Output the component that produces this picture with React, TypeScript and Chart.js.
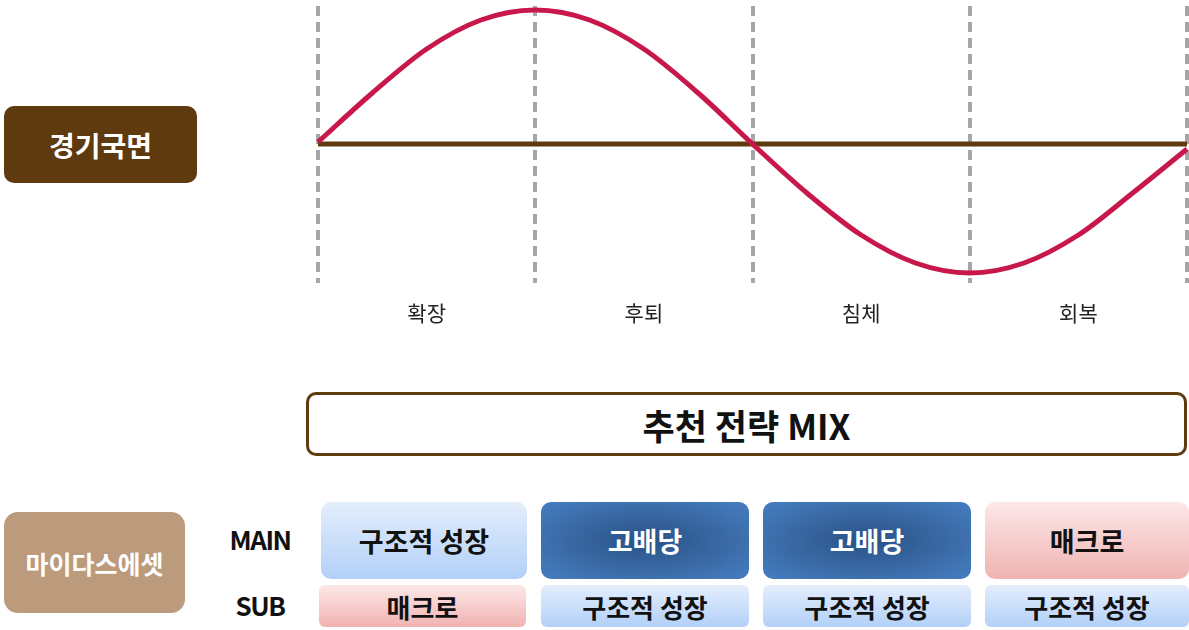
import React, { useEffect, useRef } from "react";
import { Chart, registerables } from "chart.js";

Chart.register(...registerables);

const phaseLabels = ["확장", "후퇴", "침체", "회복"];
const phaseBounds = [0, 1, 2, 3, 4];
const cycleX = [0, 0.25, 0.5, 0.75, 1, 1.25, 1.5, 1.75, 2, 2.25, 2.5, 2.75, 3, 3.25, 3.5, 3.75, 4];
const cycleY = [2, 51, 95, 124, 134, 124, 95, 51, 0, -49, -91, -119, -129, -119, -91, -49, -5];
const baselineX = [0, 4];
const baselineY = [0, 0];
const yMin = -139;
const yMax = 138;

const mainStrategies = ["구조적 성장", "고배당", "고배당", "매크로"];
const subStrategies = ["매크로", "구조적 성장", "구조적 성장", "구조적 성장"];

const FONT = "'Noto Sans CJK KR', 'Noto Sans', sans-serif";

const styleFor = (name: string): React.CSSProperties => {
  if (name === "고배당")
    return {
      background: "radial-gradient(ellipse at center, #2A5186 0%, #3A6AA6 55%, #467EC2 100%)",
      color: "#fff",
    };
  if (name === "매크로")
    return { background: "linear-gradient(#FCE8E8, #F0B3B1)", color: "#111" };
  return { background: "linear-gradient(#E4EEFC, #B2D0F8)", color: "#111" };
};

const mainCols = [
  [321, 206],
  [541, 208],
  [763, 208],
  [985, 204],
];
const subCols = [
  [319, 207],
  [541, 208],
  [763, 208],
  [985, 204],
];

const phaseLabelPlugin = {
  id: "phaseLabels",
  afterDraw(chart: any) {
    const { ctx, scales } = chart;
    const x = scales.x;
    ctx.save();
    ctx.font = `400 21px ${FONT}`;
    ctx.fillStyle = "#222";
    ctx.textAlign = "center";
    ctx.textBaseline = "middle";
    phaseLabels.forEach((lab, i) => {
      const px = x.getPixelForValue((phaseBounds[i] + phaseBounds[i + 1]) / 2);
      ctx.fillText(lab, px, 313);
    });
    ctx.restore();
  },
};

function CycleChart() {
  const ref = useRef<HTMLCanvasElement | null>(null);
  useEffect(() => {
    if (!ref.current) return;
    const chart = new Chart(ref.current, {
      type: "line",
      data: {
        datasets: [
          {
            data: cycleX.map((x, i) => ({ x, y: cycleY[i] })),
            borderColor: "#C8184B",
            borderWidth: 5,
            pointRadius: 0,
            cubicInterpolationMode: "monotone",
            clip: false,
            order: 0,
          } as any,
          {
            data: baselineX.map((x, i) => ({ x, y: baselineY[i] })),
            borderColor: "#5E3A0E",
            borderWidth: 5,
            pointRadius: 0,
            clip: false,
            order: 1,
          } as any,
        ],
      },
      options: {
        animation: false,
        responsive: false,
        maintainAspectRatio: false,
        layout: { padding: { left: 318, right: 2, top: 6, bottom: 57 } },
        plugins: { legend: { display: false }, tooltip: { enabled: false } },
        scales: {
          x: {
            type: "linear",
            min: phaseBounds[0],
            max: phaseBounds[phaseBounds.length - 1],
            ticks: { display: false, stepSize: 1 },
            grid: { color: "#A6A6A6", lineWidth: 4, drawTicks: false, tickLength: 0 },
            border: { display: false, dash: [10, 6] },
          },
          y: { display: false, min: yMin, max: yMax },
        },
      },
      plugins: [phaseLabelPlugin],
    });
    return () => chart.destroy();
  }, []);
  return (
    <canvas
      ref={ref}
      width={1189}
      height={340}
      style={{ position: "absolute", left: 0, top: 0, width: 1189, height: 340 }}
    />
  );
}

const box = (extra: React.CSSProperties): React.CSSProperties => ({
  position: "absolute",
  display: "flex",
  alignItems: "center",
  justifyContent: "center",
  fontFamily: FONT,
  fontWeight: 700,
  boxSizing: "border-box",
  whiteSpace: "nowrap",
  ...extra,
});

export default function App() {
  return (
    <div
      style={{
        position: "fixed",
        left: 0,
        top: 0,
        width: 1189,
        height: 630,
        background: "#fff",
        overflow: "hidden",
      }}
    >
      <CycleChart />
      <div
        style={box({
          left: 4,
          top: 106,
          width: 193,
          height: 77,
          background: "#5E3A0E",
          borderRadius: 10,
          color: "#fff",
          fontSize: 28,
        })}
      >
        경기국면
      </div>
      <div
        style={box({
          left: 306,
          top: 392,
          width: 881,
          height: 64,
          border: "3px solid #5E3A0E",
          borderRadius: 10,
          color: "#111",
          fontSize: 35,
        })}
      >
        추천 전략 MIX
      </div>
      <div
        style={box({
          left: 4,
          top: 512,
          width: 181,
          height: 101,
          background: "#BC9A7C",
          borderRadius: 14,
          color: "#fff",
          fontSize: 25,
        })}
      >
        마이다스에셋
      </div>
      <div style={box({ left: 210, top: 520, width: 100, height: 36, fontSize: 26, letterSpacing: -1.5, color: "#111" })}>
        MAIN
      </div>
      <div style={box({ left: 210, top: 586, width: 100, height: 36, fontSize: 26, letterSpacing: -1.5, color: "#111" })}>
        SUB
      </div>
      {mainStrategies.map((s, i) => (
        <div
          key={"m" + i}
          style={box({
            left: mainCols[i][0],
            top: 502,
            width: mainCols[i][1],
            height: 77,
            borderRadius: 10,
            fontSize: 27,
            ...styleFor(s),
          })}
        >
          {s}
        </div>
      ))}
      {subStrategies.map((s, i) => (
        <div
          key={"s" + i}
          style={box({
            left: subCols[i][0],
            top: 585,
            width: subCols[i][1],
            height: 42,
            borderRadius: 6,
            fontSize: 26,
            ...styleFor(s),
          })}
        >
          {s}
        </div>
      ))}
    </div>
  );
}
